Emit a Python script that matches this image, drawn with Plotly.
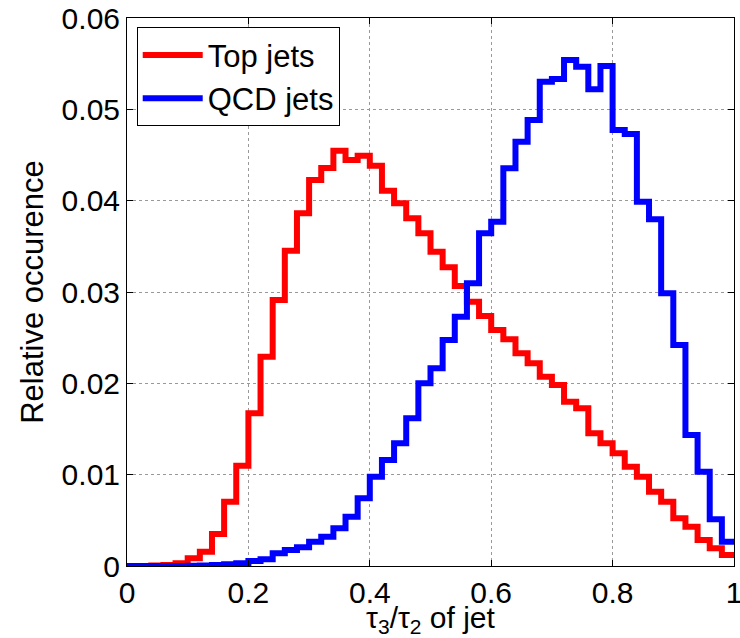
import plotly.graph_objects as go

# 50 bins of width 0.02 over tau3/tau2 in [0, 1]
bin_edges = [round(i * 0.02, 2) for i in range(51)]

top_jets = [
    0.0, 0.0, 0.00005, 0.0001, 0.0003,
    0.00084, 0.00157, 0.0035, 0.00704, 0.01098,
    0.01672, 0.02292, 0.02912, 0.03452, 0.03862,
    0.04226, 0.04358, 0.04547, 0.04445, 0.04492,
    0.04383, 0.04109, 0.03971, 0.03807, 0.03643,
    0.03441, 0.0327, 0.03066, 0.02894, 0.02737,
    0.02584, 0.02482, 0.02329, 0.02219, 0.02073,
    0.01982, 0.01799, 0.01727, 0.01453, 0.01343,
    0.01234, 0.01087, 0.00978, 0.00814, 0.00704,
    0.00522, 0.0043, 0.00285, 0.00194, 0.0012,
]

qcd_jets = [
    0.0, 0.0, 0.0, 0.0, 0.0,
    0.00002, 0.00005, 0.0001, 0.0002, 0.0003,
    0.00055, 0.00073, 0.00139, 0.00175, 0.00205,
    0.00266, 0.00321, 0.00412, 0.0054, 0.00741,
    0.00978, 0.01161, 0.01343, 0.01617, 0.02,
    0.02165, 0.02475, 0.0273, 0.03095, 0.03643,
    0.0377, 0.04354, 0.04646, 0.04883, 0.05303,
    0.05332, 0.0554, 0.05467, 0.0522, 0.05475,
    0.04774, 0.0473, 0.03989, 0.03796, 0.02986,
    0.0242, 0.01434, 0.01033, 0.00511, 0.00266,
]

x_ticks = [0, 0.2, 0.4, 0.6, 0.8, 1]
x_tick_labels = ["0", "0.2", "0.4", "0.6", "0.8", "1"]
y_ticks = [0, 0.01, 0.02, 0.03, 0.04, 0.05, 0.06]
y_tick_labels = ["0", "0.01", "0.02", "0.03", "0.04", "0.05", "0.06"]

font_family = "Liberation Sans, Arial, Helvetica, sans-serif"

fig = go.Figure()
fig.add_trace(go.Scatter(
    x=bin_edges, y=top_jets + [top_jets[-1]], mode="lines",
    line=dict(color="#ff0000", width=6, shape="hv"), name="Top jets",
))
fig.add_trace(go.Scatter(
    x=bin_edges, y=qcd_jets + [qcd_jets[-1]], mode="lines",
    line=dict(color="#0000ff", width=6, shape="hv"), name="QCD jets",
))

axis_common = dict(
    showline=True, linecolor="black", linewidth=1, mirror="ticks",
    ticks="inside", ticklen=6, tickcolor="black",
    showgrid=True, gridcolor="#999999", griddash="dot", gridwidth=1,
    zeroline=False, ticklabeloverflow="allow", automargin=False,
    tickfont=dict(size=30, color="black", family=font_family),
)

fig.update_layout(
    width=740, height=638,
    margin=dict(l=127, r=6, t=18, b=72),
    paper_bgcolor="white", plot_bgcolor="white",
    font=dict(family=font_family, color="black"),
    xaxis=dict(
        range=[0, 1], tickvals=x_ticks, ticktext=x_tick_labels,
        title=dict(text="τ<sub>3</sub>/τ<sub>2</sub> of jet",
                   font=dict(size=30, family=font_family), standoff=0),
        **axis_common,
    ),
    yaxis=dict(
        range=[0, 0.06], tickvals=y_ticks, ticktext=y_tick_labels,
        title=dict(text="Relative occurence",
                   font=dict(size=31, family=font_family), standoff=8),
        **axis_common,
    ),
    legend=dict(
        x=0.016, y=0.983, xanchor="left", yanchor="top",
        bgcolor="white", bordercolor="black", borderwidth=1,
        font=dict(size=31, family=font_family, color="black"),
        itemwidth=60, tracegroupgap=0,
    ),
    showlegend=True,
)

fig.write_html("out.html")
